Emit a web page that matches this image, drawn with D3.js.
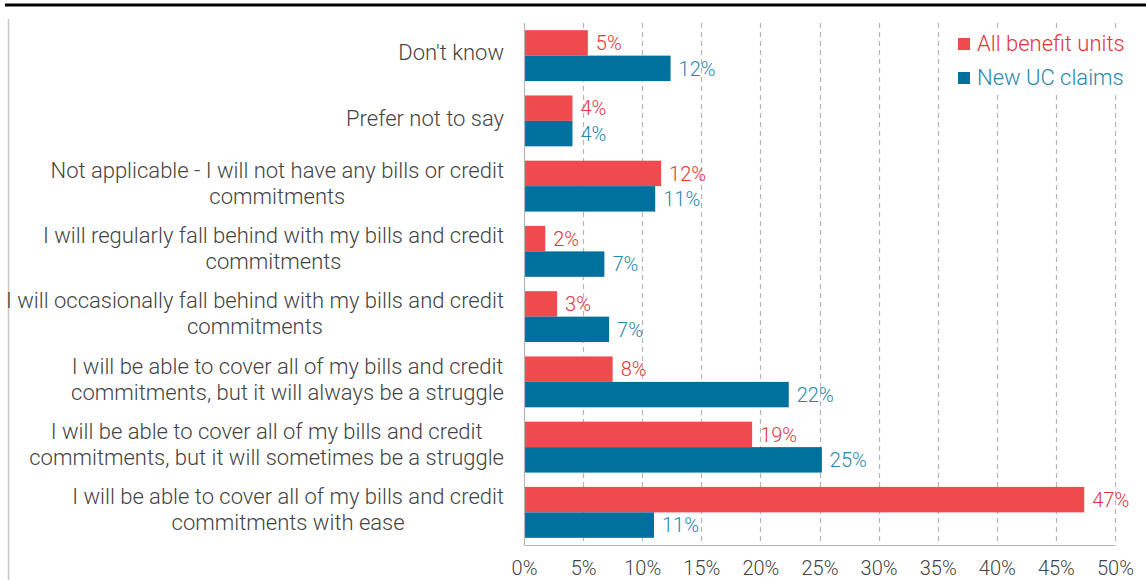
<!DOCTYPE html>
<html>
<head>
<meta charset="utf-8">
<script src="https://cdn.jsdelivr.net/npm/d3@7"></script>
<style>
  html, body { margin: 0; padding: 0; background: #fff; }
  svg { display: block; font-family: Roboto, "Noto Sans", sans-serif; font-weight: 300; }
</style>
</head>
<body>
<svg id="chart" width="1146" height="580"></svg>
<script>
// Survey answers, top to bottom
const categories = [
  ["Don't know"],
  ["Prefer not to say"],
  ["Not applicable - I will not have any bills or credit", "commitments"],
  ["I will regularly fall behind with my bills and credit", "commitments"],
  ["I will occasionally fall behind with my bills and credit", "commitments"],
  ["I will be able to cover all of my bills and credit", "commitments, but it will always be a struggle"],
  ["I will be able to cover all of my bills and credit", "commitments, but it will sometimes be a struggle"],
  ["I will be able to cover all of my bills and credit", "commitments with ease"]
];
const seriesNames = ["All benefit units", "New UC claims"];
const allBenefitUnits = [5.4, 4.1, 11.6, 1.8, 2.8, 7.5, 19.3, 47.4];
const newUCClaims = [12.4, 4.1, 11.1, 6.8, 7.2, 22.4, 25.2, 11.0];
const tickValues = [0, 5, 10, 15, 20, 25, 30, 35, 40, 45, 50];

const barColors = ["#ef4b4f", "#00719c"];
const textColors = ["#e3343a", "#2a86ad"];

const svg = d3.select("#chart");

// frame: heavy rule on top, light rule down the left side
svg.append("line").attr("x1", 5).attr("x2", 1146).attr("y1", 5).attr("y2", 5)
  .attr("stroke", "#000").attr("stroke-width", 3);
svg.append("line").attr("x1", 8.5).attr("x2", 8.5).attr("y1", 19).attr("y2", 580)
  .attr("stroke", "#c8c8c8").attr("stroke-width", 1.5);

const plotLeft = 524, plotRight = 1115, plotTop = 23, plotBottom = 545;

const x = d3.scaleLinear().domain([0, 50]).range([plotLeft, plotRight]);
const y = d3.scaleBand().domain(d3.range(categories.length)).range([plotTop, plotBottom])
  .paddingInner(0.22).paddingOuter(0.11);
const ySub = d3.scaleBand().domain([0, 1]).range([0, y.bandwidth()]);

// dashed vertical gridlines
svg.append("g").selectAll("line").data(tickValues.filter(d => d > 0)).join("line")
  .attr("x1", d => Math.round(x(d)) + 0.5).attr("x2", d => Math.round(x(d)) + 0.5)
  .attr("y1", plotTop).attr("y2", plotBottom)
  .attr("stroke", "#b5b5b5").attr("stroke-width", 1.2).attr("stroke-dasharray", "5,4");

// x axis
const xAxis = svg.append("g").attr("transform", `translate(0,${plotBottom})`)
  .call(d3.axisBottom(x).tickValues(tickValues).tickFormat(d => d + "%").tickSize(0).tickPadding(16));
xAxis.select(".domain").attr("stroke", "#b5b5b5").attr("stroke-width", 1.2);
xAxis.selectAll("text").attr("font-size", 20).attr("fill", "#444").attr("font-family", "Roboto, sans-serif").attr("font-weight", 300);

// bars
const series = [allBenefitUnits, newUCClaims];
const groups = svg.append("g").selectAll("g").data(categories).join("g")
  .attr("transform", (d, i) => `translate(0,${y(i)})`);

series.forEach((vals, s) => {
  groups.append("rect")
    .attr("x", x(0))
    .attr("y", ySub(s))
    .attr("width", (d, i) => x(vals[i]) - x(0))
    .attr("height", ySub.bandwidth())
    .attr("fill", barColors[s]);
  groups.append("text")
    .attr("x", (d, i) => x(vals[i]) + 8)
    .attr("y", ySub(s) + ySub.bandwidth() / 2)
    .attr("dy", "0.36em")
    .attr("font-size", 20)
    .attr("fill", textColors[s])
    .text((d, i) => d3.format(".0f")(vals[i]) + "%");
});

// y axis line
svg.append("line").attr("x1", plotLeft + 0.5).attr("x2", plotLeft + 0.5).attr("y1", plotTop).attr("y2", plotBottom)
  .attr("stroke", "#b5b5b5").attr("stroke-width", 1.2);

// category labels: block right-aligned to the axis, lines centred within the block
const labelRight = 504, lineH = 26;
groups.each(function(lines, i) {
  const g = d3.select(this);
  const t = g.append("text").attr("font-size", 22).attr("fill", "#444");
  const spans = lines.map((ln, k) => t.append("tspan").text(ln));
  const widths = spans.map(sp => sp.node().getComputedTextLength());
  const w = d3.max(widths);
  const cx = labelRight - w / 2;
  const cy = y.bandwidth() / 2 - 3;
  spans.forEach((sp, k) => {
    sp.attr("x", cx).attr("text-anchor", "middle")
      .attr("y", cy + (k - (lines.length - 1) / 2) * lineH).attr("dy", "0.35em");
  });
});

// legend on a white panel
const legend = svg.append("g");
legend.append("rect").attr("x", 950).attr("y", 28).attr("width", 196).attr("height", 67).attr("fill", "#fff");
seriesNames.forEach((name, s) => {
  const cy = 43 + s * 34;
  legend.append("rect").attr("x", 958).attr("y", cy - 5).attr("width", 12).attr("height", 12).attr("fill", barColors[s]);
  legend.append("text").attr("x", 977).attr("y", cy).attr("dy", "0.35em")
    .attr("font-size", 22).attr("fill", textColors[s]).text(name);
});
</script>
</body>
</html>
